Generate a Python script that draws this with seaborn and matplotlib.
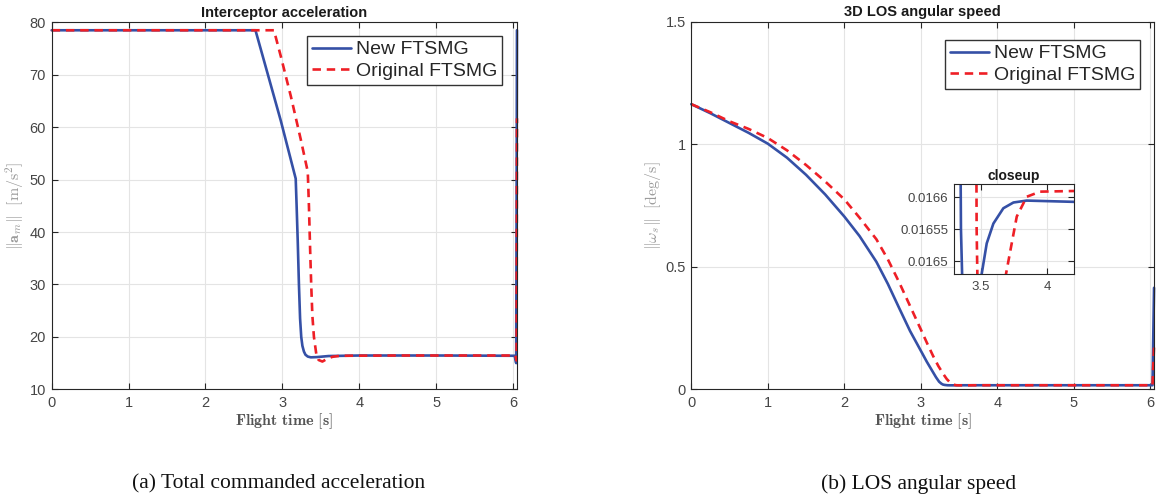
import numpy as np
import pandas as pd
import matplotlib
matplotlib.use("Agg")
import matplotlib.pyplot as plt
import seaborn as sns

# ── DATA ─────────────────────────────────────────────────────────
# (a) total commanded acceleration, m/s^2
t_acc_new = [0.0, 2.65, 2.98, 3.173, 3.185, 3.20, 3.215, 3.23, 3.245, 3.26, 3.28,
             3.30, 3.33, 3.37, 3.45, 3.60, 4.0, 5.0, 6.02, 6.04, 6.05]
acc_new = [78.5, 78.5, 61.2, 50.2, 45.0, 38.0, 30.0, 23.5, 20.0, 18.3, 17.2,
           16.6, 16.25, 16.1, 16.15, 16.35, 16.45, 16.45, 16.4, 15.0, 78.5]

t_acc_orig = [0.0, 2.89, 2.98, 3.11, 3.24, 3.33, 3.345, 3.36, 3.375, 3.39, 3.41,
              3.44, 3.47, 3.52, 3.58, 3.65, 3.75, 4.5, 5.5, 6.03, 6.045, 6.05]
acc_orig = [78.5, 78.5, 73.5, 65.9, 57.6, 51.5, 45.0, 37.0, 29.8, 24.0, 20.0,
            16.8, 15.6, 15.3, 15.8, 16.2, 16.4, 16.45, 16.45, 16.45, 15.5, 61.7]

# (b) LOS angular speed, deg/s
t_los_new = [0.0, 0.25, 0.5, 0.75, 1.0, 1.25, 1.5, 1.75, 2.0, 2.2, 2.42, 2.57,
             2.72, 2.86, 3.0, 3.08, 3.16, 3.2, 3.24, 3.27, 3.29, 3.31, 3.33,
             3.349, 3.37, 3.42, 3.47, 3.505, 3.543, 3.593, 3.668, 3.744, 3.844,
             4.2, 5.0, 6.03, 6.05]
los_new = [1.163, 1.126, 1.086, 1.046, 1.002, 0.945, 0.875, 0.795, 0.705, 0.625,
           0.52, 0.43, 0.33, 0.238, 0.158, 0.112, 0.070, 0.049, 0.031, 0.023,
           0.0195, 0.018, 0.0172, 0.01655, 0.01638, 0.01628, 0.01638, 0.01648,
           0.016528, 0.016559, 0.016583, 0.016592, 0.016595, 0.016593, 0.01659,
           0.01658, 0.414]

t_los_orig = [0.0, 0.25, 0.5, 0.75, 1.0, 1.25, 1.5, 1.75, 2.0, 2.2, 2.42, 2.57,
              2.72, 2.86, 3.0, 3.08, 3.16, 3.23, 3.3, 3.34, 3.38, 3.41, 3.43,
              3.455, 3.467, 3.49, 3.58, 3.65, 3.688, 3.731, 3.769, 3.844, 3.945,
              4.2, 5.0, 6.03, 6.05]
los_orig = [1.163, 1.13, 1.093, 1.062, 1.025, 0.975, 0.915, 0.848, 0.775, 0.70,
            0.612, 0.53, 0.435, 0.34, 0.245, 0.19, 0.137, 0.095, 0.060, 0.042,
            0.029, 0.022, 0.019, 0.0172, 0.01655, 0.01625, 0.01618, 0.01635,
            0.01648, 0.016528, 0.01657, 0.016601, 0.016609, 0.01661, 0.01661,
            0.01661, 0.175]

series_names = ["New FTSMG", "Original FTSMG"]
acc_yticks = [10, 20, 30, 40, 50, 60, 70, 80]
los_yticks = [0, 0.5, 1, 1.5]
los_yticklabels = ["0", "0.5", "1", "1.5"]
time_ticks = [0, 1, 2, 3, 4, 5, 6]
zoom_xticks = [3.5, 4]
zoom_xticklabels = ["3.5", "4"]
zoom_yticks = [0.0165, 0.01655, 0.0166]
zoom_yticklabels = ["0.0165", "0.01655", "0.0166"]

# ── STYLE ────────────────────────────────────────────────────────
sns.set_style("ticks")
plt.rcParams["font.family"] = ["Liberation Sans", "DejaVu Sans"]
plt.rcParams["mathtext.fontset"] = "cm"

BLUE = "#3550a6"
RED = "#ee1f26"
DARK = "#262626"
TICKC = "#454545"
LW = 1.9


def style_axes(ax, tick_size=10.5):
    ax.grid(True, color="#e4e4e4", linewidth=0.8)
    ax.set_axisbelow(True)
    for s in ax.spines.values():
        s.set_color(DARK)
        s.set_linewidth(0.8)
    ax.tick_params(direction="in", length=4, width=0.8, color=DARK,
                   top=True, right=True, labelsize=tick_size, labelcolor=TICKC)
    ax.tick_params(axis="x", pad=5)
    ax.tick_params(axis="y", pad=4)


def draw_pair(ax, t1, y1, t2, y2, clip=True, labels=True):
    sns.lineplot(x=t1, y=y1, ax=ax, color=BLUE, linewidth=LW, sort=False,
                 estimator=None, label=series_names[0] if labels else None,
                 legend=False)
    ax.lines[-1].set_clip_on(clip)
    sns.lineplot(x=t2, y=y2, ax=ax, color=RED, linewidth=LW, sort=False,
                 estimator=None, label=series_names[1] if labels else None,
                 legend=False)
    ax.lines[-1].set_dashes((3.2, 2.2))
    ax.lines[-1].set_clip_on(clip)


fig = plt.figure(figsize=(11.56, 4.99), dpi=100)
ax1 = fig.add_axes([0.0447, 0.2198, 0.4025, 0.7353])
ax2 = fig.add_axes([0.598, 0.2198, 0.4003, 0.737])

# ── (a) acceleration ─────────────────────────────────────────────
draw_pair(ax1, t_acc_new, acc_new, t_acc_orig, acc_orig, clip=False)
ax1.set_xlim(0, 6.05)
ax1.set_ylim(10, 80)
ax1.set_xticks(time_ticks)
ax1.set_yticks(acc_yticks)
style_axes(ax1)
ax1.set_title("Interceptor acceleration", fontweight="bold", fontsize=10.5,
              pad=4, color="#1a1a1a")
ax1.set_ylabel(r"$\|\mathbf{a}_m\|\ \ [\mathrm{m/s^2}]$", fontsize=11.5,
               color="#9a9a9a", va="center")
ax1.yaxis.set_label_coords(-0.08, 0.5)
ax1.set_xlabel(r"$\mathbf{Flight\ time\ [s]}$", fontsize=11.5, color="#555555",
               va="center")
ax1.xaxis.set_label_coords(0.5, -0.087)
ax1.legend(loc="upper right", bbox_to_anchor=(0.968, 0.963), borderaxespad=0,
           fontsize=14, frameon=True, fancybox=False, framealpha=1,
           edgecolor="#333333", borderpad=0.25, labelspacing=0.2,
           handlelength=2.0, handletextpad=0.25)

# ── (b) LOS angular speed ────────────────────────────────────────
draw_pair(ax2, t_los_new, los_new, t_los_orig, los_orig, clip=False)
ax2.set_xlim(0, 6.05)
ax2.set_ylim(0, 1.5)
ax2.set_xticks(time_ticks)
ax2.set_yticks(los_yticks)
ax2.set_yticklabels(los_yticklabels)
style_axes(ax2)
ax2.set_title("3D LOS angular speed", fontweight="bold", fontsize=10.5,
              pad=4, color="#1a1a1a")
ax2.set_ylabel(r"$\|\omega_s\|\ \ [\mathrm{deg/s}]$", fontsize=11.5,
               color="#9a9a9a", va="center")
ax2.yaxis.set_label_coords(-0.083, 0.5)
ax2.set_xlabel(r"$\mathbf{Flight\ time\ [s]}$", fontsize=11.5, color="#555555",
               va="center")
ax2.xaxis.set_label_coords(0.5, -0.087)
ax2.legend(loc="upper right", bbox_to_anchor=(0.970, 0.950), borderaxespad=0,
           fontsize=14, frameon=True, fancybox=False, framealpha=1,
           edgecolor="#333333", borderpad=0.25, labelspacing=0.2,
           handlelength=2.0, handletextpad=0.25)

# inset closeup
axi = fig.add_axes([0.8253, 0.4509, 0.1038, 0.1804])
axi.set_facecolor("white")
draw_pair(axi, t_los_new, los_new, t_los_orig, los_orig, clip=True, labels=False)
axi.set_xlim(3.297, 4.2)
axi.set_ylim(0.01648, 0.016621)
axi.set_xticks(zoom_xticks)
axi.set_xticklabels(zoom_xticklabels)
axi.set_yticks(zoom_yticks)
axi.set_yticklabels(zoom_yticklabels)
style_axes(axi, tick_size=9.5)
axi.set_xlabel("")
axi.set_ylabel("")
axi.set_title("closeup", fontweight="bold", fontsize=10, pad=3, color="#1a1a1a")

# captions
fig.text(279 / 1156, 1 - 484 / 499, "(a) Total commanded acceleration",
         family=["Liberation Serif", "DejaVu Serif"], fontsize=15.5,
         ha="center", va="center", color="#111111")
fig.text(919 / 1156, 1 - 484 / 499, "(b) LOS angular speed",
         family=["Liberation Serif", "DejaVu Serif"], fontsize=15.5,
         ha="center", va="center", color="#111111")

fig.savefig("out.png", dpi=100)
